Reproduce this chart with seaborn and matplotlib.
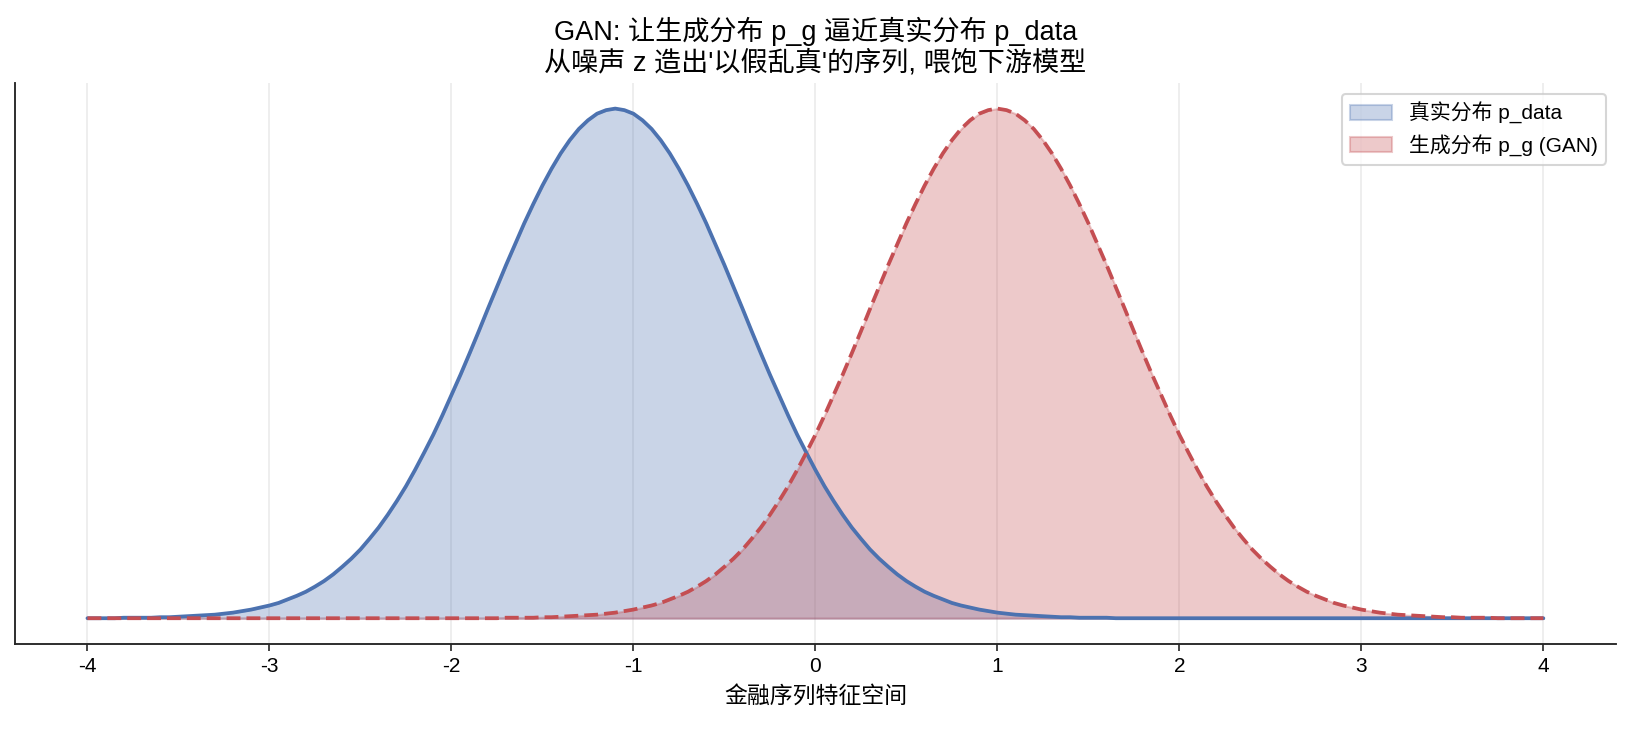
import numpy as np
import pandas as pd
import matplotlib
matplotlib.use('Agg')
import matplotlib.pyplot as plt
import seaborn as sns

# x 网格 (-4 到 4, 步长 0.05)
x_vals = [round(-4 + 0.05 * i, 2) for i in range(161)]

# 真实分布 p_data (从图上读出的相对密度, 峰值在 x=-1.1)
p_data = [0.000, 0.000, 0.000, 0.000, 0.001, 0.001, 0.001, 0.001, 0.002, 0.002,
          0.003, 0.004, 0.005, 0.006, 0.007, 0.009, 0.011, 0.014, 0.017, 0.021,
          0.025, 0.030, 0.037, 0.044, 0.052, 0.062, 0.073, 0.086, 0.101, 0.117,
          0.135, 0.156, 0.178, 0.203, 0.230, 0.259, 0.291, 0.325, 0.360, 0.398,
          0.438, 0.478, 0.520, 0.563, 0.607, 0.650, 0.693, 0.734, 0.775, 0.813,
          0.849, 0.882, 0.912, 0.938, 0.960, 0.977, 0.990, 0.997, 1.000, 0.997,
          0.990, 0.977, 0.960, 0.938, 0.912, 0.882, 0.849, 0.813, 0.775, 0.734,
          0.693, 0.650, 0.607, 0.563, 0.520, 0.478, 0.438, 0.398, 0.360, 0.325,
          0.291, 0.259, 0.230, 0.203, 0.178, 0.156, 0.135, 0.117, 0.101, 0.086,
          0.073, 0.062, 0.052, 0.044, 0.037, 0.030, 0.025, 0.021, 0.017, 0.014,
          0.011, 0.009, 0.007, 0.006, 0.005, 0.004, 0.003, 0.002, 0.002, 0.001,
          0.001, 0.001, 0.001, 0.000, 0.000, 0.000, 0.000, 0.000, 0.000, 0.000,
          0.000, 0.000, 0.000, 0.000, 0.000, 0.000, 0.000, 0.000, 0.000, 0.000,
          0.000, 0.000, 0.000, 0.000, 0.000, 0.000, 0.000, 0.000, 0.000, 0.000,
          0.000, 0.000, 0.000, 0.000, 0.000, 0.000, 0.000, 0.000, 0.000, 0.000,
          0.000, 0.000, 0.000, 0.000, 0.000, 0.000, 0.000, 0.000, 0.000, 0.000,
          0.000]

# 生成分布 p_g (峰值在 x=1.0)
p_g = [0.000, 0.000, 0.000, 0.000, 0.000, 0.000, 0.000, 0.000, 0.000, 0.000,
       0.000, 0.000, 0.000, 0.000, 0.000, 0.000, 0.000, 0.000, 0.000, 0.000,
       0.000, 0.000, 0.000, 0.000, 0.000, 0.000, 0.000, 0.000, 0.000, 0.000,
       0.000, 0.000, 0.000, 0.000, 0.000, 0.000, 0.000, 0.000, 0.000, 0.000,
       0.000, 0.000, 0.000, 0.000, 0.000, 0.000, 0.001, 0.001, 0.001, 0.001,
       0.002, 0.002, 0.003, 0.004, 0.005, 0.006, 0.007, 0.009, 0.011, 0.014,
       0.017, 0.021, 0.025, 0.030, 0.037, 0.044, 0.052, 0.062, 0.073, 0.086,
       0.101, 0.117, 0.135, 0.156, 0.178, 0.203, 0.230, 0.259, 0.291, 0.325,
       0.360, 0.398, 0.438, 0.478, 0.520, 0.563, 0.607, 0.650, 0.693, 0.734,
       0.775, 0.813, 0.849, 0.882, 0.912, 0.938, 0.960, 0.977, 0.990, 0.997,
       1.000, 0.997, 0.990, 0.977, 0.960, 0.938, 0.912, 0.882, 0.849, 0.813,
       0.775, 0.734, 0.693, 0.650, 0.607, 0.563, 0.520, 0.478, 0.438, 0.398,
       0.360, 0.325, 0.291, 0.259, 0.230, 0.203, 0.178, 0.156, 0.135, 0.117,
       0.101, 0.086, 0.073, 0.062, 0.052, 0.044, 0.037, 0.030, 0.025, 0.021,
       0.017, 0.014, 0.011, 0.009, 0.007, 0.006, 0.005, 0.004, 0.003, 0.002,
       0.002, 0.001, 0.001, 0.001, 0.001, 0.000, 0.000, 0.000, 0.000, 0.000,
       0.000]

x_ticks = [-4, -3, -2, -1, 0, 1, 2, 3, 4]

df = pd.DataFrame({'x': x_vals, 'p_data': p_data, 'p_g': p_g})

sns.set_style('white')
plt.rcParams['font.family'] = ['Liberation Sans', 'Noto Sans CJK SC', 'DejaVu Sans']
plt.rcParams['axes.unicode_minus'] = False
plt.rcParams['text.color'] = 'black'
plt.rcParams['axes.labelcolor'] = 'black'
plt.rcParams['xtick.color'] = 'black'

blue = '#4C72B0'
red = '#C44E52'

fig = plt.figure(figsize=(1630 / 150, 729 / 150), dpi=150)
ax = fig.add_axes([0.009, 0.117, 0.9825, 0.769])

ax.fill_between(df['x'], df['p_data'], color=blue, alpha=0.3, label='真实分布 p_data')
ax.fill_between(df['x'], df['p_g'], color=red, alpha=0.3, label='生成分布 p_g (GAN)')
sns.lineplot(data=df, x='x', y='p_data', color=blue, lw=1.8, ax=ax, legend=False)
sns.lineplot(data=df, x='x', y='p_g', color=red, lw=1.8, ls='--', ax=ax, legend=False)

ax.set_xticks(x_ticks)
ax.set_xticklabels([str(t) for t in x_ticks], fontsize=10)
ax.set_yticks([])
ax.set_ylabel('')
ax.set_xlabel('金融序列特征空间', fontsize=11, labelpad=4)
ax.grid(axis='x', color='#EBEBEB', lw=0.8)
ax.set_axisbelow(True)
ax.tick_params(axis='x', bottom=True, length=3.5, width=0.8, color='#262626', pad=3)
sns.despine(ax=ax)
for s in ['left', 'bottom']:
    ax.spines[s].set_color('#262626')
    ax.spines[s].set_linewidth(0.9)

ax.set_title("GAN: 让生成分布 p_g 逼近真实分布 p_data\n从噪声 z 造出'以假乱真'的序列, 喂饱下游模型",
             fontsize=13, pad=6, linespacing=1.2)
ax.legend(loc='upper right', fontsize=10, frameon=True, edgecolor='#CCCCCC')

fig.savefig('out.png', dpi=150)
